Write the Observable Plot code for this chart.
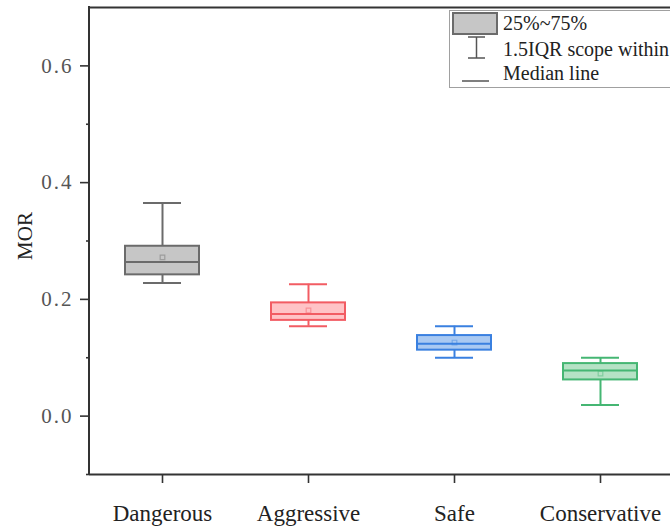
<!DOCTYPE html>
<html>
<head>
<meta charset="utf-8">
<script src="https://cdn.jsdelivr.net/npm/d3@7"></script>
<script src="https://cdn.jsdelivr.net/npm/@observablehq/plot@0.6"></script>
<style>
  html, body { margin: 0; padding: 0; background: #fff; }
  #chart { position: relative; width: 670px; height: 526px; overflow: hidden; }
</style>
</head>
<body>
<div id="chart"></div>
<script>
// ---- data ----
const categories   = ["Dangerous", "Aggressive", "Safe", "Conservative"];
const lowerWhisker = [0.228, 0.154, 0.100, 0.019];
const q1Values     = [0.242, 0.164, 0.113, 0.062];
const medianValues = [0.264, 0.175, 0.124, 0.078];
const q3Values     = [0.291, 0.194, 0.138, 0.090];
const upperWhisker = [0.365, 0.226, 0.154, 0.100];
const meanValues   = [0.272, 0.181, 0.126, 0.073];
const strokeColors = ["#6b6b6b", "#f25c63", "#3a80e0", "#45b673"];
const fillColors   = ["#c6c6c6", "#ffc3c6", "#a9c9f2", "#b5e2c5"];
const yMajorTicks  = [0.0, 0.2, 0.4, 0.6];
const yMinorTicks  = [-0.1, 0.1, 0.3, 0.5];
const yLabel       = "MOR";
const legendLabels = ["25%~75%", "1.5IQR scope within", "Median line"];

const rows = categories.map((c, i) => ({
  cat: c, lo: lowerWhisker[i], q1: q1Values[i], med: medianValues[i],
  q3: q3Values[i], hi: upperWhisker[i], mean: meanValues[i],
  stroke: strokeColors[i], fill: fillColors[i]
}));

const FONT = "'Liberation Serif', 'Times New Roman', serif";
const AXIS = "#333";

const plot = Plot.plot({
  width: 670,
  height: 526,
  marginTop: 7,
  marginBottom: 52,
  marginLeft: 89,
  marginRight: 0,
  style: { fontFamily: FONT, background: "#fff", overflow: "visible" },
  x: { type: "band", domain: categories, range: [89, 673], padding: 0 },
  y: { domain: [-0.1, 0.7] },
  marks: [
    // whiskers
    Plot.ruleX(rows, { x: "cat", y1: "q3", y2: "hi", stroke: "stroke", strokeWidth: 2 }),
    Plot.ruleX(rows, { x: "cat", y1: "lo", y2: "q1", stroke: "stroke", strokeWidth: 2 }),
    Plot.tickY(rows, { x: "cat", y: "hi", stroke: "stroke", strokeWidth: 2, insetLeft: 54, insetRight: 54 }),
    Plot.tickY(rows, { x: "cat", y: "lo", stroke: "stroke", strokeWidth: 2, insetLeft: 54, insetRight: 54 }),
    // boxes
    Plot.barY(rows, { x: "cat", y1: "q1", y2: "q3", fill: "fill", stroke: "stroke", strokeWidth: 2, insetLeft: 36, insetRight: 36 }),
    // median
    Plot.tickY(rows, { x: "cat", y: "med", stroke: "stroke", strokeWidth: 2, insetLeft: 36, insetRight: 36 }),
    // mean
    Plot.dot(rows, { x: "cat", y: "mean", symbol: "square", r: 2.6, stroke: "stroke", strokeOpacity: 0.45, strokeWidth: 1.2, fill: "none" }),
    // frame lines top & bottom
    Plot.ruleY([-0.1, 0.7], { stroke: AXIS, strokeWidth: 2 }),
    // axes
    Plot.axisY(yMajorTicks, {
      tickSize: 9, tickPadding: 7, stroke: AXIS, strokeWidth: 1.6, fontSize: 21,
      tickFormat: d => d.toFixed(1), fill: "#555", label: null
    }),
    Plot.axisY(yMinorTicks, { tickSize: 3, stroke: AXIS, strokeWidth: 1.6, tickFormat: () => "", label: null }),
    Plot.axisX({ tickSize: 9, tickPadding: 21, stroke: AXIS, strokeWidth: 1.6, fontSize: 23, fill: "#222", label: null })
  ]
});

const svg = d3.select(plot);
svg.selectAll('g[aria-label="y-axis tick label"] text').attr("letter-spacing", "2px");

// y-axis title
svg.append("text")
  .attr("transform", "translate(32,236) rotate(-90)")
  .attr("text-anchor", "middle")
  .attr("font-family", FONT).attr("font-size", 21).attr("fill", "#222")
  .text(yLabel);

// left axis line, from scales
const ys = plot.scale("y").range;
const xs = plot.scale("x").range;
svg.append("line")
  .attr("x1", xs[0]).attr("x2", xs[0])
  .attr("y1", ys[0] + 1).attr("y2", ys[1] - 1)
  .attr("stroke", AXIS).attr("stroke-width", 2);

// legend
const lg = svg.append("g").attr("font-family", FONT).attr("font-size", 20)
  .attr("fill", "#222").attr("text-anchor", "start");
lg.append("rect").attr("x", 449.5).attr("y", 10.5).attr("width", 240).attr("height", 77)
  .attr("fill", "#fff").attr("stroke", "#a0a0a0").attr("stroke-width", 1);
lg.append("rect").attr("x", 453).attr("y", 13).attr("width", 44).attr("height", 21)
  .attr("fill", fillColors[0]).attr("stroke", strokeColors[0]).attr("stroke-width", 2);
lg.append("line").attr("x1", 476.5).attr("x2", 476.5).attr("y1", 37).attr("y2", 58).attr("stroke", "#555").attr("stroke-width", 1.5);
lg.append("line").attr("x1", 468).attr("x2", 485).attr("y1", 37).attr("y2", 37).attr("stroke", "#555").attr("stroke-width", 1.5);
lg.append("line").attr("x1", 468).attr("x2", 485).attr("y1", 58).attr("y2", 58).attr("stroke", "#555").attr("stroke-width", 1.5);
lg.append("line").attr("x1", 462).attr("x2", 489).attr("y1", 81).attr("y2", 81).attr("stroke", "#555").attr("stroke-width", 1.5);
[29.5, 55.5, 80].forEach((y, i) => {
  lg.append("text").attr("x", 503).attr("y", y).attr("text-anchor", "start").text(legendLabels[i]);
});

document.getElementById("chart").appendChild(plot);
</script>
</body>
</html>
